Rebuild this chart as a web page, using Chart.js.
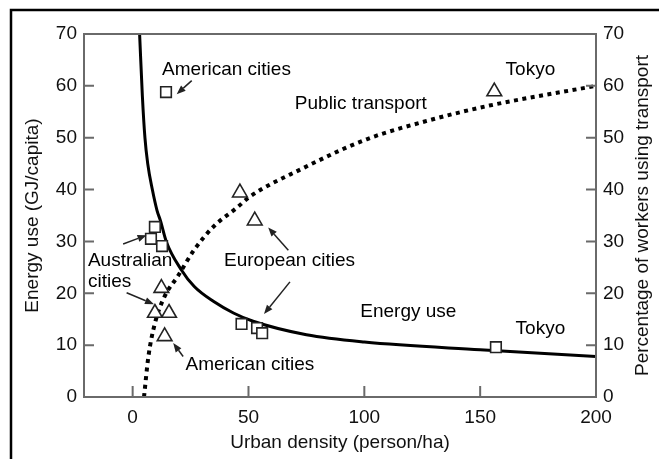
<!DOCTYPE html>
<html>
<head>
<meta charset="utf-8">
<script src="https://cdn.jsdelivr.net/npm/chart.js@4/dist/chart.umd.min.js"></script>
<style>
  html, body { margin: 0; padding: 0; background: #fff; }
</style>
</head>
<body>
<canvas id="chart" width="659" height="459"></canvas>
<script>
// values
const xTicks = [0, 50, 100, 150, 200];

// energy use curve (GJ/capita) vs urban density
const energyCurve = [
    [3.0, 70], [4.2, 58], [5.3, 50], [6.5, 45], [8.5, 40], [10.5, 36], [12, 34],
    [14.5, 30], [20.9, 24.6], [26.6, 21.3], [35, 18.4], [43.5, 16.2], [52, 14.6],
    [75, 12.0], [100, 10.6], [150, 9.1], [200, 7.8]
];

// public transport share curve (%)
const transportCurve = [
    [4.9, 0], [6.8, 7.8], [9.6, 14.2], [13.8, 19.4], [19.5, 23.3], [26.6, 28.4],
    [35, 32.9], [45, 36.5], [50.5, 38.6], [73, 44], [101, 49.7], [130, 53.6],
    [154, 56.2], [200, 60]
];

// city groups, energy use (squares)
const energyCities = [
    [14.4, 58.8],
    [9.6, 32.8], [7.9, 30.5], [12.7, 29.1],
    [47.0, 14.1], [53.7, 13.3], [55.9, 12.3],
    [156.8, 9.6]
];

// city groups, transport share (triangles)
const transportCities = [
    [12.4, 21.0], [9.6, 16.2], [15.7, 16.2], [13.8, 11.7],
    [46.3, 39.4], [52.7, 34.0],
    [156.1, 58.9]
];

// annotation text and arrows, in data units
const noteTexts = [
    { text: 'American cities', x: 40.5, y: 63.1 },
    { text: 'Public transport', x: 98.5, y: 56.5 },
    { text: 'Tokyo', x: 171.7, y: 63.1 },
    { text: 'Australian', x: -19.3, y: 26.2, align: 'left' },
    { text: 'cities', x: -19.3, y: 22.2, align: 'left' },
    { text: 'European cities', x: 67.7, y: 26.2 },
    { text: 'Energy use', x: 119.0, y: 16.4 },
    { text: 'Tokyo', x: 176.0, y: 13.1 },
    { text: 'American cities', x: 50.6, y: 6.2 }
];

const noteArrows = [
    [25.5, 61.0, 19.0, 58.4],
    [-4.1, 29.5, 6.0, 31.2],
    [-2.6, 20.1, 9.2, 17.9],
    [67.2, 28.3, 58.5, 32.7],
    [67.9, 22.2, 56.7, 16.0],
    [21.8, 7.8, 17.5, 10.4]
];

const rightTitle = 'Percentage of workers using transport';

const toXY = arr => arr.map(p => ({ x: p[0], y: p[1] }));

const FONT = "'Liberation Sans', Arial, sans-serif";
const AXIS_GREY = '#6a6a6a';

const framePlugin = {
    id: 'frame',
    afterDatasetsDraw(chart) {
        const { ctx, chartArea: a, scales } = chart;
        ctx.save();

        // outer frame (only top and left visible)
        ctx.strokeStyle = '#000';
        ctx.lineWidth = 2.5;
        ctx.beginPath();
        ctx.moveTo(11, 459);
        ctx.lineTo(11, 10);
        ctx.lineTo(659, 10);
        ctx.stroke();

        // plot box
        ctx.strokeStyle = AXIS_GREY;
        ctx.lineWidth = 2;
        ctx.strokeRect(a.left, a.top, a.right - a.left, a.bottom - a.top);

        // inward tick marks
        ctx.beginPath();
        scales.x.ticks.forEach(t => {
            const px = scales.x.getPixelForValue(t.value);
            ctx.moveTo(px, a.bottom);
            ctx.lineTo(px, a.bottom - 11);
        });
        scales.y.ticks.forEach(t => {
            const py = scales.y.getPixelForValue(t.value);
            ctx.moveTo(a.left, py);
            ctx.lineTo(a.left + 10, py);
        });
        scales.y2.ticks.forEach(t => {
            const py = scales.y2.getPixelForValue(t.value);
            ctx.moveTo(a.right, py);
            ctx.lineTo(a.right - 10, py);
        });
        ctx.stroke();

        // right axis title, reading bottom to top like the left one
        ctx.fillStyle = '#111';
        ctx.font = '19px ' + FONT;
        ctx.textAlign = 'center';
        ctx.textBaseline = 'middle';
        ctx.save();
        ctx.translate(643, (a.top + a.bottom) / 2);
        ctx.rotate(-Math.PI / 2);
        ctx.fillText(rightTitle, 0, 0);
        ctx.restore();

        // annotations
        const sx = scales.x, sy = scales.y;
        ctx.fillStyle = '#000';
        noteTexts.forEach(n => {
            ctx.textAlign = n.align || 'center';
            ctx.fillText(n.text, sx.getPixelForValue(n.x), sy.getPixelForValue(n.y));
        });

        ctx.strokeStyle = '#222';
        ctx.fillStyle = '#222';
        ctx.lineWidth = 1.5;
        noteArrows.forEach(ar => {
            const x1 = sx.getPixelForValue(ar[0]), y1 = sy.getPixelForValue(ar[1]);
            const x2 = sx.getPixelForValue(ar[2]), y2 = sy.getPixelForValue(ar[3]);
            const ang = Math.atan2(y2 - y1, x2 - x1);
            const hl = 9, hw = 3.5;
            const bx = x2 - hl * Math.cos(ang), by = y2 - hl * Math.sin(ang);
            ctx.beginPath();
            ctx.moveTo(x1, y1);
            ctx.lineTo(bx, by);
            ctx.stroke();
            ctx.beginPath();
            ctx.moveTo(x2, y2);
            ctx.lineTo(bx + hw * Math.sin(ang), by - hw * Math.cos(ang));
            ctx.lineTo(bx - hw * Math.sin(ang), by + hw * Math.cos(ang));
            ctx.closePath();
            ctx.fill();
        });

        ctx.restore();
    }
};

const tickFont = { family: FONT, size: 19 };
const titleFont = { family: FONT, size: 19 };

new Chart(document.getElementById('chart').getContext('2d'), {
    type: 'scatter',
    data: {
        datasets: [
            {
                label: 'Energy use',
                data: toXY(energyCurve),
                showLine: true,
                borderColor: '#000',
                borderWidth: 3,
                pointRadius: 0,
                cubicInterpolationMode: 'monotone',
                yAxisID: 'y',
                order: 2
            },
            {
                label: 'Public transport',
                data: toXY(transportCurve),
                showLine: true,
                borderColor: '#000',
                borderWidth: 4,
                borderDash: [4, 4.5],
                borderCapStyle: 'butt',
                pointRadius: 0,
                cubicInterpolationMode: 'monotone',
                yAxisID: 'y2',
                order: 2
            },
            {
                label: 'Energy use cities',
                data: toXY(energyCities),
                pointStyle: 'rect',
                pointRadius: 7.5,
                borderColor: '#222',
                borderWidth: 1.6,
                backgroundColor: '#fff',
                yAxisID: 'y',
                order: 1
            },
            {
                label: 'Transport cities',
                data: toXY(transportCities),
                pointStyle: 'triangle',
                pointRadius: 8.5,
                borderColor: '#222',
                borderWidth: 1.6,
                backgroundColor: '#fff',
                yAxisID: 'y2',
                order: 1
            }
        ]
    },
    options: {
        responsive: false,
        animation: false,
        events: [],
        layout: { padding: { top: 34 } },
        plugins: {
            legend: { display: false },
            tooltip: { enabled: false }
        },
        scales: {
            x: {
                type: 'linear',
                min: -21,
                max: 200,
                afterBuildTicks: scale => { scale.ticks = xTicks.map(v => ({ value: v })); },
                afterFit: scale => { scale.height = 62; },
                grid: { display: false, drawTicks: false },
                border: { display: false },
                ticks: { font: tickFont, color: '#111', padding: 9 },
                title: {
                    display: true,
                    text: 'Urban density (person/ha)',
                    font: titleFont,
                    color: '#111',
                    padding: { top: 5, bottom: 5 }
                }
            },
            y: {
                position: 'left',
                min: 0,
                max: 70,
                afterFit: scale => { scale.width = 84; },
                grid: { display: false, drawTicks: false },
                border: { display: false },
                ticks: { stepSize: 10, font: tickFont, color: '#111', padding: 7 },
                title: {
                    display: true,
                    text: 'Energy use (GJ/capita)',
                    font: titleFont,
                    color: '#111',
                    padding: { top: 21, bottom: 0 }
                }
            },
            y2: {
                position: 'right',
                min: 0,
                max: 70,
                afterFit: scale => { scale.width = 63; },
                grid: { display: false, drawTicks: false },
                border: { display: false },
                ticks: { stepSize: 10, font: tickFont, color: '#111', padding: 7 }
            }
        }
    },
    plugins: [framePlugin]
});
</script>
</body>
</html>
